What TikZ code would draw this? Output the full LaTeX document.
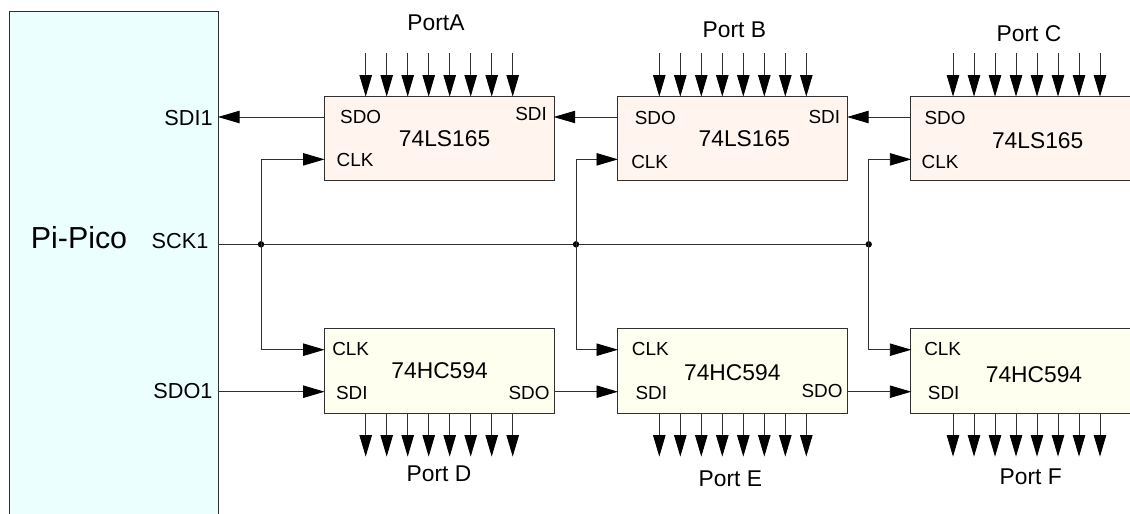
\documentclass[tikz,border=0pt]{standalone}
\usepackage{fontspec}
\setmainfont{Liberation Sans}
\usetikzlibrary{arrows.meta,calc}
\definecolor{picofill}{HTML}{EBFFFF}
\definecolor{infill}{HTML}{FFF5EE}
\definecolor{outfill}{HTML}{FFFFF0}
\definecolor{wire}{HTML}{303030}
\tikzset{
  wireline/.style={draw=wire,line width=0.9pt},
  sig/.style={wireline,shorten >=-0.6pt,-{Triangle[length=21.5pt,width=12.4pt,color=black]}},
  chip/.style={draw=wire,line width=0.9pt,anchor=north west,inner sep=0pt,outer sep=0pt,minimum width=230.3pt},
  inchip/.style={chip,fill=infill,minimum height=84.3pt},
  outchip/.style={chip,fill=outfill,minimum height=84.6pt},
  pico/.style={draw=wire,line width=0.9pt,fill=picofill,anchor=north west,inner sep=0pt,outer sep=0pt,minimum width=209.3pt,minimum height=520pt},
  dot/.style={circle,fill=black,inner sep=0pt,outer sep=0pt,minimum size=6.4pt},
  pin/.style={inner sep=0pt,font=\fontsize{18.9}{19}\selectfont},
  ttl/.style={inner sep=0pt,font=\fontsize{22.8}{23}\selectfont},
  sig1/.style={inner sep=0pt,font=\fontsize{21.7}{22}\selectfont},
  big/.style={inner sep=0pt,font=\fontsize{30.4}{31}\selectfont},
}
\begin{document}
\begin{tikzpicture}[x=1pt,y=-1pt]
\useasboundingbox (0,0) rectangle (1130,514);
\clip (0,0) rectangle (1130,514);
\fill[white] (0,0) rectangle (1130,514);
% blocks
\node[pico] (pico) at (9.3,11.7) {};
\node[inchip] (ia) at (324,96) {};
\node[inchip] (ib) at (617.4,96) {};
\node[inchip] (ic) at (910.7,96) {};
\node[outchip] (oa) at (324,328.7) {};
\node[outchip] (ob) at (617.4,328.7) {};
\node[outchip] (oc) at (910.7,328.7) {};
% pico pins
\coordinate (pSDI) at (218.6,117);
\coordinate (pSCK) at (218.6,244.3);
\coordinate (pSDO) at (218.6,391.7);
% junctions
\node[dot] (ja) at (261,244.3) {};
\node[dot] (jb) at (576,244.3) {};
\node[dot] (jc) at (868.7,244.3) {};
% serial chain
\draw[sig] (ia.west |- pSDI) -- (pSDI);
\draw[sig] (ib.west |- pSDI) -- (ia.east |- pSDI);
\draw[sig] (ic.west |- pSDI) -- (ib.east |- pSDI);
\draw[sig] (pSDO) -- (oa.west |- pSDO);
\draw[sig] (oa.east |- pSDO) -- (ob.west |- pSDO);
\draw[sig] (ob.east |- pSDO) -- (oc.west |- pSDO);
% clock
\draw[wireline] (pSCK) -- (ja) -- (jb) -- (jc);
\foreach \j/\i/\o in {ja/ia/oa,jb/ib/ob,jc/ic/oc}{
  \coordinate (top) at ($(\i.west)+(0,21.2)$);
  \coordinate (bot) at ($(\o.west)+(0,-21.3)$);
  \draw[sig] (\j.center) |- (top);
  \draw[sig] (\j.center) |- (bot);
}
% ports
\foreach \c/\o in {ia/41.7,ib/41.9,ic/42.3}{
  \foreach \k in {0,...,7}{
    \coordinate (pa) at ($(\c.north west)+(\o+21*\k,-43)$);
    \coordinate (pb) at ($(\c.north west)+(\o+21*\k,0)$);
    \draw[sig] (pa) -- (pb);
  }
}
\foreach \c/\o in {oa/41.7,ob/41.9,oc/42.3}{
  \foreach \k in {0,...,7}{
    \coordinate (pa) at ($(\c.south west)+(\o+21*\k,0)$);
    \coordinate (pb) at ($(\c.south west)+(\o+21*\k,42.7)$);
    \draw[sig] (pa) -- (pb);
  }
}
% labels
\node[big] (tPico) at (79,238) {Pi-Pico};
\node[sig1] (tSDI1) at (188.6,118) {SDI1};
\node[sig1] (tSCK1) at (180,241) {SCK1};
\node[sig1] (tSDO1) at (183,391) {SDO1};
\node[ttl] (tPA) at (436,23) {PortA};
\node[ttl] (tPB) at (734.3,30) {Port B};
\node[ttl] (tPC) at (1029,34) {Port C};
\node[ttl] (tPD) at (439,474) {Port D};
\node[ttl] (tPE) at (730.3,478.7) {Port E};
\node[ttl] (tPF) at (1030.7,476.7) {Port F};
\node[ttl] (t1) at (444.6,139) {74LS165};
\node[ttl] (t2) at (744.3,139) {74LS165};
\node[ttl] (t3) at (1037.7,141) {74LS165};
\node[ttl] (t4) at (439.6,371) {74HC594};
\node[ttl] (t5) at (732.3,372.3) {74HC594};
\node[ttl] (t6) at (1034,375) {74HC594};
\node[pin] (a1) at (360.7,117) {SDO};
\node[pin] (a2) at (531,114) {SDI};
\node[pin] (a3) at (355,160) {CLK};
\node[pin] (b1) at (655.3,118.3) {SDO};
\node[pin] (b2) at (824.3,116.7) {SDI};
\node[pin] (b3) at (649.7,162) {CLK};
\node[pin] (c1) at (945,118) {SDO};
\node[pin] (c3) at (940,162) {CLK};
\node[pin] (d1) at (350.7,349) {CLK};
\node[pin] (d2) at (351.8,393) {SDI};
\node[pin] (d3) at (529,393) {SDO};
\node[pin] (e1) at (650.3,349) {CLK};
\node[pin] (e2) at (651.3,392.7) {SDI};
\node[pin] (e3) at (822,391) {SDO};
\node[pin] (f1) at (942.7,349) {CLK};
\node[pin] (f2) at (943.7,392.7) {SDI};
\end{tikzpicture}
\end{document}
